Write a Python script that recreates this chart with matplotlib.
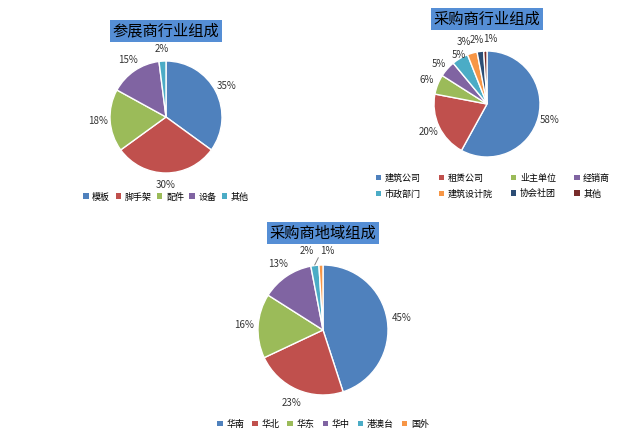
import matplotlib
matplotlib.use("Agg")
import matplotlib.pyplot as plt
from matplotlib.patches import Patch
import numpy as np

plt.rcParams['font.family'] = ['Noto Sans CJK SC', 'DejaVu Sans']

# data
exhib_labels = ['模板', '脚手架', '配件', '设备', '其他']
exhib_values = [35, 30, 18, 15, 2]

buyer_ind_labels = ['建筑公司', '租赁公司', '业主单位', '经销商', '市政部门', '建筑设计院', '协会社团', '其他']
buyer_ind_values = [58, 20, 6, 5, 5, 3, 2, 1]

buyer_reg_labels = ['华南', '华北', '华东', '华中', '港澳台', '国外']
buyer_reg_values = [45, 23, 16, 13, 2, 1]

colors = ['#4F81BD', '#C0504D', '#9BBB59', '#8064A2', '#4BACC6', '#F79646', '#2C4D75', '#772C2A']

W, H = 617, 440
fig = plt.figure(figsize=(W / 100, H / 100), dpi=100)


def pie_at(cx, cy, r, values, title, title_y, shifts=None, lim=1.45):
    size = 2 * r * lim
    ax = fig.add_axes([(cx - size / 2) / W, 1 - (cy + size / 2) / H, size / W, size / H])
    wedges, texts, autotexts = ax.pie(
        values, colors=colors[:len(values)], startangle=90, counterclock=False,
        radius=1, autopct='%d%%', pctdistance=1.22,
        wedgeprops=dict(edgecolor='white', linewidth=1.0),
        textprops=dict(fontsize=7, color='#333333'))
    # nudge crowded small-slice labels
    if shifts:
        for i, (dx, dy) in shifts.items():
            x, y = autotexts[i].get_position()
            autotexts[i].set_position((x + dx, y + dy))
    ax.set_xlim(-lim, lim)
    ax.set_ylim(-lim, lim)
    ax.set_aspect('equal')
    ax.axis('off')
    fig.text(cx / W, 1 - title_y / H, title, ha='center', va='center', fontsize=11,
             bbox=dict(boxstyle='square,pad=0.15', facecolor='#558ED5', edgecolor='none'))
    return ax, wedges, autotexts


def legend_at(x, y, labels, ncol, cs=0.9, order=None, rs=0.5):
    handles = [Patch(facecolor=colors[i], label=l) for i, l in enumerate(labels)]
    if order:
        handles = [handles[i] for i in order]
    fig.legend(handles=handles, loc='center', bbox_to_anchor=(x / W, 1 - y / H),
               ncol=ncol, frameon=False, fontsize=6.5, handlelength=0.6,
               handleheight=0.6, handletextpad=0.4, columnspacing=cs, labelspacing=rs)


pie_at(166, 117, 56, exhib_values, '参展商行业组成', 31)
legend_at(166, 197, exhib_labels, 5, cs=0.6)

pie_at(487, 104, 53, buyer_ind_values, '采购商行业组成', 19,
       shifts={3: (0.0, -0.05), 4: (0.08, -0.12), 5: (-0.1, 0.0), 6: (-0.04, 0.0), 7: (0.1, 0.0)})
legend_at(493, 186, buyer_ind_labels, 4, cs=2.0, order=[0, 4, 1, 5, 2, 6, 3, 7], rs=0.75)

ax3, w3, t3 = pie_at(323, 330, 65, buyer_reg_values, '采购商地域组成', 233,
                     shifts={4: (-0.09, 0.0), 5: (0.1, 0.0)})
# leader line for the 2% label
w = w3[4]
ang = np.deg2rad((w.theta1 + w.theta2) / 2)
tx, ty = t3[4].get_position()
ax3.plot([np.cos(ang) * 1.01, tx + 0.17], [np.sin(ang) * 1.01, ty - 0.1], color='#808080', lw=0.7)
legend_at(323, 424, buyer_reg_labels, 6)

fig.savefig('out.png', dpi=100)
